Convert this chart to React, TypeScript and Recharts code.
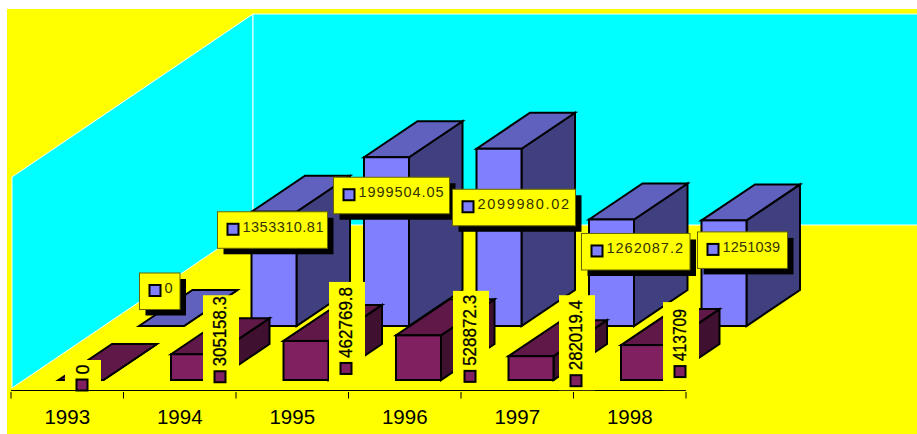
/**
 * Pseudo-3D column chart with two rows of bars standing on a floor,
 * walls behind them and boxed value labels.
 */

import { BarChart, Bar, XAxis, YAxis, LabelList, Customized } from 'recharts';

const years = ['1993', '1994', '1995', '1996', '1997', '1998'];
const backRowValues = [0, 1353310.81, 1999504.05, 2099980.02, 1262087.2, 1251039];
const frontRowValues = [0, 305158.3, 462769.8, 528872.3, 282019.4, 413709];

const backRowText = ['0', '1353310.81', '1999504.05', '2099980.02', '1262087.2', '1251039'];
const frontRowText = ['0', '305158.3', '462769.8', '528872.3', '282019.4', '413709'];

const chartData = years.map((year, i) => ({
    year,
    back: backRowValues[i],
    front: frontRowValues[i],
}));

const WIDTH = 917;
const HEIGHT = 434;
const AXIS_LEFT = 11;
const AXIS_RIGHT = 686;
const BAND = (AXIS_RIGHT - AXIS_LEFT) / years.length;
const BAR_WIDTH = 45;
const DEPTH = { dx: 53.5, dy: -36 };

const BACK_COLORS = { face: '#8080FF', top: '#6060BF', side: '#404080' };
const FRONT_COLORS = { face: '#802060', top: '#601848', side: '#401030' };

// Where each row sits on the floor, relative to the axis line
const BACK_ROW = { dx: 94, dy: -64.5, colors: BACK_COLORS };
const FRONT_ROW = { dx: 13.5, dy: -10.5, colors: FRONT_COLORS };

// Label placement relative to the unshifted bar's top-left corner
const backLabelLayout = [
    { dx: 94.5, dy: -117.5, w: 40.5, textW: 0 },
    { dx: 60, dy: -64.5, w: 110, textW: 81 },
    { dx: 63.5, dy: -44.5, w: 116, textW: 85 },
    { dx: 70, dy: -24, w: 123, textW: 91.5 },
    { dx: 86.5, dy: -50.5, w: 108.5, textW: 76.5 },
    { dx: 90, dy: -53, w: 90, textW: 57.5 },
];
const frontLabelLayout = [
    { dx: 20, dy: -30.5, h: 30, keyY: 19.5, textW: 0 },
    { dx: 45.5, dy: -69.5, h: 94.5, keyY: 76, textW: 70 },
    { dx: 59, dy: -69.5, h: 99, keyY: 81, textW: 71 },
    { dx: 70.5, dy: -55, h: 99, keyY: 80, textW: 71 },
    { dx: 64, dy: -71.5, h: 95, keyY: 80, textW: 70 },
    { dx: 55.5, dy: -53.5, h: 88, keyY: 64, textW: 52 },
];

const FONT = '"Liberation Sans", Arial, sans-serif';

const pts = (list: number[][]) => list.map(p => p.join(',')).join(' ');

function Walls() {
    const leftWall = [[12, 177], [253, 14], [253, 225], [12, 388]];
    const backWall = [[253, 14], [WIDTH + 2, 14], [WIDTH + 2, 225], [253, 225]];
    return (
        <g>
            <rect x={7} y={9} width={WIDTH} height={HEIGHT} fill="#FFFF00" />
            <polygon points={pts(leftWall)} fill="#00FFFF" stroke="#FFFFFF" strokeWidth={1} />
            <polygon points={pts(backWall)} fill="#00FFFF" stroke="#FFFFFF" strokeWidth={1} />
        </g>
    );
}

// Draws one column as front, top and side faces, moved back onto its floor row
function makeBlock(row: typeof BACK_ROW) {
    return function Block(props: any) {
        const x = props.x + row.dx;
        const y = props.y + row.dy;
        const w = props.width;
        const h = props.height;
        const { dx, dy } = DEPTH;
        const line = { stroke: '#000000', strokeWidth: 2, strokeLinejoin: 'miter' as const };
        return (
            <g>
                <polygon
                    points={pts([[x + w, y], [x + w + dx, y + dy], [x + w + dx, y + h + dy], [x + w, y + h]])}
                    fill={row.colors.side}
                    {...line}
                />
                <polygon
                    points={pts([[x, y], [x + dx, y + dy], [x + w + dx, y + dy], [x + w, y]])}
                    fill={row.colors.top}
                    {...line}
                />
                {h > 0 && <rect x={x} y={y} width={w} height={h} fill={row.colors.face} {...line} />}
            </g>
        );
    };
}

const BackBlock = makeBlock(BACK_ROW);
const FrontBlock = makeBlock(FRONT_ROW);

function BackLabel(props: any) {
    const { x, y, index } = props;
    const box = backLabelLayout[index];
    const left = x + box.dx;
    const top = y + box.dy;
    return (
        <g>
            <rect x={left + 6} y={top + 6} width={box.w} height={36.5} fill="#000000" />
            <rect x={left} y={top} width={box.w} height={36.5} fill="#FFFF00" stroke="#666600" strokeWidth={1} />
            <rect x={left + 10} y={top + 12} width={11} height={11} fill={BACK_COLORS.face} stroke="#000000" strokeWidth={2} />
            <text
                x={left + 25}
                y={top + 20}
                fontFamily={FONT}
                fontSize={14.5}
                fill="#333300"
                textLength={box.textW || undefined}
                lengthAdjust="spacing"
            >
                {backRowText[index]}
            </text>
        </g>
    );
}

function FrontLabel(props: any) {
    const { x, y, index } = props;
    const box = frontLabelLayout[index];
    const left = x + box.dx;
    const top = y + box.dy;
    const keyTop = top + box.keyY;
    const baseX = left + 23.5;
    const baseY = keyTop - 5;
    return (
        <g>
            <rect x={left} y={top} width={36} height={box.h} fill="#FFFF00" />
            <rect x={left + 11.5} y={keyTop} width={11} height={11} fill={FRONT_COLORS.face} stroke="#000000" strokeWidth={2} />
            <text
                transform={`rotate(-90 ${baseX} ${baseY})`}
                x={baseX}
                y={baseY}
                fontFamily={FONT}
                fontSize={18}
                fill="#000000"
                stroke="#000000"
                strokeWidth={0.3}
                textLength={box.textW || undefined}
                lengthAdjust="spacingAndGlyphs"
            >
                {frontRowText[index]}
            </text>
        </g>
    );
}

// Year label centred in the band, tick marks on the band edges
function YearTick(props: any) {
    const { x, y, payload, index } = props;
    const edge = x - BAND / 2;
    return (
        <g>
            <line x1={edge} y1={y - 0.5} x2={edge} y2={y + 6} stroke="#000000" strokeWidth={1} />
            {index === years.length - 1 && (
                <line x1={edge + BAND} y1={y - 0.5} x2={edge + BAND} y2={y + 6} stroke="#000000" strokeWidth={1} />
            )}
            <text x={x} y={y + 31} textAnchor="middle" fontFamily={FONT} fontSize={20.5} fill="#000000">
                {payload.value}
            </text>
        </g>
    );
}

export default function App() {
    return (
        <div style={{ position: 'absolute', left: 0, top: 0 }}>
            <BarChart
                width={WIDTH}
                height={HEIGHT}
                data={chartData}
                margin={{ top: 179.5, left: AXIS_LEFT, right: WIDTH - AXIS_RIGHT, bottom: 0 }}
                barSize={BAR_WIDTH}
                barGap={-BAR_WIDTH}
            >
                <Customized component={<Walls />} />
                <XAxis
                    dataKey="year"
                    height={43.5}
                    interval={0}
                    tickSize={0}
                    tick={<YearTick />}
                    axisLine={{ stroke: '#000000', strokeWidth: 1 }}
                    tickLine={false}
                />
                <YAxis hide width={0} domain={[0, 2500000]} />
                <Bar dataKey="back" isAnimationActive={false} shape={<BackBlock />}>
                    <LabelList dataKey="back" content={<BackLabel />} />
                </Bar>
                <Bar dataKey="front" isAnimationActive={false} shape={<FrontBlock />}>
                    <LabelList dataKey="front" content={<FrontLabel />} />
                </Bar>
            </BarChart>
        </div>
    );
}
